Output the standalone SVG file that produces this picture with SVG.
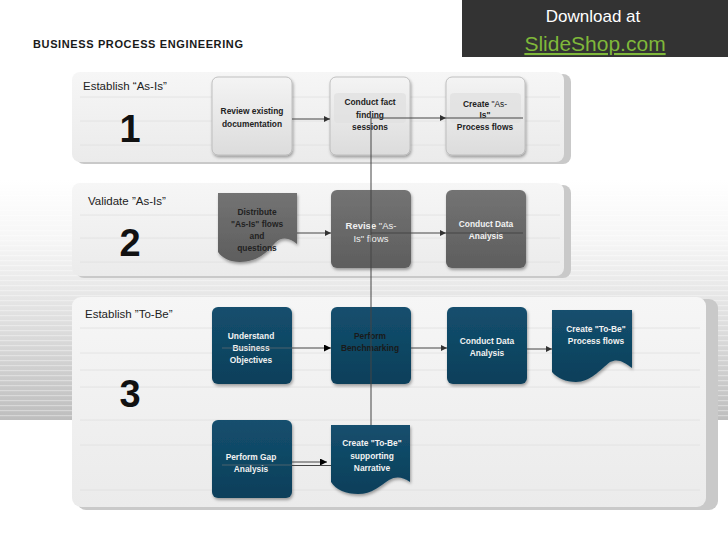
<svg xmlns="http://www.w3.org/2000/svg" width="728" height="546" viewBox="0 0 728 546">
<defs>
<style>
.lbl{font-family:"Liberation Sans",Arial,sans-serif;font-size:11.5px;fill:#222}
.num{font-family:"Liberation Sans",Arial,sans-serif;font-size:38px;font-weight:bold;fill:#111;text-anchor:middle}
.nt{font-family:"Liberation Sans",Arial,sans-serif;font-size:8.4px;font-weight:bold;text-anchor:middle}
.dk{fill:#222}
.wt{fill:#f2f2f2}
.conn{fill:none;stroke:#444;stroke-width:1}
.faint{fill:none;stroke:#777;stroke-width:1;opacity:0.6}
.stripe{stroke:#e0e0e0;stroke-width:0.8}
</style>
<linearGradient id="band" x1="0" y1="0" x2="0" y2="1">
<stop offset="0" stop-color="#ffffff"/>
<stop offset="0.25" stop-color="#f6f6f6"/>
<stop offset="0.6" stop-color="#dedede"/>
<stop offset="1" stop-color="#bebebe"/>
</linearGradient>
<pattern id="stripes" width="8" height="5" patternUnits="userSpaceOnUse">
<rect x="0" y="0" width="8" height="1.2" fill="#ffffff" opacity="0.35"/>
</pattern>
<linearGradient id="panel" x1="0" y1="0" x2="0" y2="1">
<stop offset="0" stop-color="#f6f6f6"/>
<stop offset="1" stop-color="#ebebeb"/>
</linearGradient>
<linearGradient id="light" x1="0" y1="0" x2="0" y2="1">
<stop offset="0" stop-color="#f4f4f4"/>
<stop offset="1" stop-color="#dcdcdc"/>
</linearGradient>
<linearGradient id="gray" x1="0" y1="0" x2="0" y2="1">
<stop offset="0" stop-color="#737373"/>
<stop offset="1" stop-color="#5e5e5e"/>
</linearGradient>
<linearGradient id="blue" x1="0" y1="0" x2="0" y2="1">
<stop offset="0" stop-color="#144f6e"/>
<stop offset="1" stop-color="#0b3f5a"/>
</linearGradient>
<filter id="sh" x="-20%" y="-20%" width="140%" height="140%">
<feDropShadow dx="1" dy="2" stdDeviation="1.5" flood-color="#000" flood-opacity="0.35"/>
</filter>
<marker id="ah" viewBox="0 0 10 10" refX="10" refY="5" markerWidth="6" markerHeight="6" markerUnits="userSpaceOnUse" orient="auto">
<path d="M0,0 L10,5 L0,10 Z" fill="#333"/>
</marker>
<marker id="ahk" viewBox="0 0 10 10" refX="10" refY="5" markerWidth="7" markerHeight="7" markerUnits="userSpaceOnUse" orient="auto">
<path d="M0,0 L10,5 L0,10 Z" fill="#000"/>
</marker>
</defs>

<!-- background -->
<rect x="0" y="0" width="728" height="546" fill="#ffffff"/>
<rect x="0" y="180" width="728" height="240" fill="url(#band)"/>
<rect x="0" y="180" width="728" height="240" fill="url(#stripes)"/>

<!-- header -->
<g id="title">
<text x="33" y="48" font-family="Liberation Sans,Arial,sans-serif" font-size="11" font-weight="bold" fill="#1a1a1a" textLength="210">BUSINESS PROCESS ENGINEERING</text>
</g>
<g id="download">
<rect x="462" y="0" width="266" height="57" fill="#333333"/>
<text x="593" y="22" font-family="Liberation Sans,Arial,sans-serif" font-size="17" fill="#ffffff" text-anchor="middle">Download at</text>
<text x="595" y="51" font-family="Liberation Sans,Arial,sans-serif" font-size="21" fill="#7fb83a" text-anchor="middle" text-decoration="underline">SlideShop.com</text>
</g>

<!-- panels -->
<g id="panel1">
<rect x="76" y="74" width="495" height="90" rx="8" fill="#c9c9c9"/>
<rect x="72" y="72" width="492" height="90" rx="8" fill="url(#panel)"/>
<line class="stripe" x1="80" y1="97" x2="560" y2="97"/>
<line class="stripe" x1="80" y1="121" x2="560" y2="121"/>
<line class="stripe" x1="80" y1="145" x2="560" y2="145"/>
<text class="lbl" x="83" y="90">Establish “As-Is”</text>
<text class="num" x="130" y="142">1</text>
</g>
<g id="panel2">
<rect x="76" y="185" width="495" height="93" rx="8" fill="#c9c9c9"/>
<rect x="72" y="183" width="492" height="93" rx="8" fill="url(#panel)"/>
<line class="stripe" x1="80" y1="215" x2="560" y2="215"/>
<line class="stripe" x1="80" y1="238" x2="560" y2="238"/>
<line class="stripe" x1="80" y1="262" x2="560" y2="262"/>
<text class="lbl" x="88" y="205">Validate ”As-Is”</text>
<text class="num" x="130" y="256">2</text>
</g>
<g id="panel3">
<rect x="77" y="299" width="641" height="211" rx="9" fill="#c9c9c9"/>
<rect x="72" y="297" width="634" height="210" rx="9" fill="url(#panel)"/>
<line class="stripe" x1="80" y1="328" x2="700" y2="328"/>
<line class="stripe" x1="80" y1="353" x2="700" y2="353"/>
<line class="stripe" x1="80" y1="370" x2="700" y2="370"/>
<line class="stripe" x1="80" y1="387" x2="700" y2="387"/>
<line class="stripe" x1="80" y1="420" x2="700" y2="420"/>
<line class="stripe" x1="80" y1="445" x2="700" y2="445"/>
<line class="stripe" x1="80" y1="490" x2="700" y2="490"/>
<text class="lbl" x="85" y="318">Establish ”To-Be”</text>
<text class="num" x="130" y="407">3</text>
</g>

<!-- nodes row 1 -->
<g id="n_review">
<rect x="212" y="77" width="80" height="78" rx="6" fill="url(#light)" stroke="#b5b5b5" stroke-width="0.8" filter="url(#sh)"/>
<text class="nt dk" x="252" y="114">Review existing</text>
<text class="nt dk" x="252" y="127">documentation</text>
</g>
<g id="n_fact">
<rect x="330" y="77" width="80" height="78" rx="6" fill="url(#light)" stroke="#b5b5b5" stroke-width="0.8" filter="url(#sh)"/>
<rect x="334" y="93" width="72" height="30" rx="4" fill="#e0e0e0" opacity="0.7"/>
<text class="nt dk" x="370" y="105">Conduct fact</text>
<text class="nt dk" x="370" y="118">finding</text>
<text class="nt dk" x="370" y="130">sessions</text>
</g>
<g id="n_createasis">
<rect x="446" y="77" width="79" height="78" rx="6" fill="url(#light)" stroke="#b5b5b5" stroke-width="0.8" filter="url(#sh)"/>
<rect x="450" y="93" width="71" height="30" rx="4" fill="#e0e0e0" opacity="0.7"/>
<text class="nt dk" x="485" y="107">Create <tspan font-weight="normal">"As-</tspan></text>
<text class="nt dk" x="485" y="118" font-weight="normal">Is"</text>
<text class="nt dk" x="485" y="130">Process flows</text>
</g>

<!-- nodes row 2 -->
<g id="n_distribute">
<path d="M218,193 H297 V244 C290,238 282,236 275,243 C266,254 256,262 240,262 C230,262 222,258 218,252 Z" fill="url(#gray)" filter="url(#sh)"/>
<text class="nt dk" x="257" y="215">Distribute</text>
<text class="nt dk" x="257" y="227">"As-Is" flows</text>
<text class="nt dk" x="257" y="239">and</text>
<text class="nt dk" x="257" y="251">questions</text>
</g>
<g id="n_revise">
<rect x="331" y="190" width="80" height="78" rx="6" fill="url(#gray)" filter="url(#sh)"/>
<text x="371" y="229" font-family="Liberation Sans,Arial,sans-serif" font-size="9.5" fill="#f0f0f0" text-anchor="middle"><tspan font-weight="bold">Revise</tspan> "As-</text>
<text x="371" y="242" font-family="Liberation Sans,Arial,sans-serif" font-size="9.5" fill="#f0f0f0" text-anchor="middle">Is" flows</text>
</g>
<g id="n_data1">
<rect x="446" y="190" width="80" height="78" rx="6" fill="url(#gray)" filter="url(#sh)"/>
<text class="nt wt" x="486" y="227">Conduct Data</text>
<text class="nt wt" x="486" y="239">Analysis</text>
</g>

<!-- nodes row 3 -->
<g id="n_understand">
<rect x="212" y="307" width="80" height="77" rx="6" fill="url(#blue)" filter="url(#sh)"/>
<text class="nt wt" x="251" y="339">Understand</text>
<text class="nt wt" x="251" y="351">Business</text>
<text class="nt wt" x="251" y="363">Objectives</text>
</g>
<g id="n_bench">
<rect x="331" y="307" width="80" height="77" rx="6" fill="url(#blue)" filter="url(#sh)"/>
<text class="nt" x="370" y="339" fill="#1a1a1a">Perform</text>
<text class="nt" x="370" y="351" fill="#1a1a1a">Benchmarking</text>
</g>
<g id="n_data2">
<rect x="447" y="307" width="80" height="77" rx="6" fill="url(#blue)" filter="url(#sh)"/>
<text class="nt wt" x="487" y="344">Conduct Data</text>
<text class="nt wt" x="487" y="356">Analysis</text>
</g>
<g id="n_createtobe">
<path d="M552,310 H632 V368 C624,362 618,358 610,362 C600,370 590,382 576,382 C566,382 557,378 552,372 Z" fill="url(#blue)" filter="url(#sh)"/>
<text class="nt wt" x="596" y="332">Create "To-Be"</text>
<text class="nt wt" x="596" y="344">Process flows</text>
</g>

<!-- nodes row 4 -->
<g id="n_gap">
<rect x="212" y="420" width="80" height="78" rx="6" fill="url(#blue)" filter="url(#sh)"/>
<text class="nt wt" x="251" y="460">Perform Gap</text>
<text class="nt wt" x="251" y="472">Analysis</text>
</g>
<g id="n_narrative">
<path d="M331,425 H410 V482 C403,477 396,476 389,480 C380,486 372,494 358,494 C346,494 336,490 331,482 Z" fill="url(#blue)" filter="url(#sh)"/>
<text class="nt wt" x="372" y="446">Create "To-Be"</text>
<text class="nt wt" x="372" y="459">supporting</text>
<text class="nt wt" x="372" y="471">Narrative</text>
</g>

<!-- connectors -->
<g id="connectors">
<path class="conn" d="M292,119 H330" marker-end="url(#ah)"/>
<path class="conn" d="M371,118 H446" marker-end="url(#ah)"/>
<path class="conn" d="M446,118 H523"/>
<path class="conn" d="M371,118 V425"/>
<path class="conn" d="M297,233 H331" marker-end="url(#ah)"/>
<path class="conn" d="M371,233 H446" marker-end="url(#ah)"/>
<path class="conn" d="M446,233 H523"/>
<path class="faint" d="M222,348 H292"/>
<path class="conn" d="M292,348 H331" stroke="#111" marker-end="url(#ahk)"/>
<path class="conn" d="M411,348 H447" stroke="#666" marker-end="url(#ah)"/>
<path class="conn" d="M527,349 H552" stroke="#666" marker-end="url(#ah)"/>
<path class="faint" d="M222,465 H292"/>
<path class="conn" d="M292,462 H327" stroke="#000" marker-end="url(#ahk)"/>
<path class="conn" d="M292,465.5 H331" stroke="#000"/>
</g>
</svg>
